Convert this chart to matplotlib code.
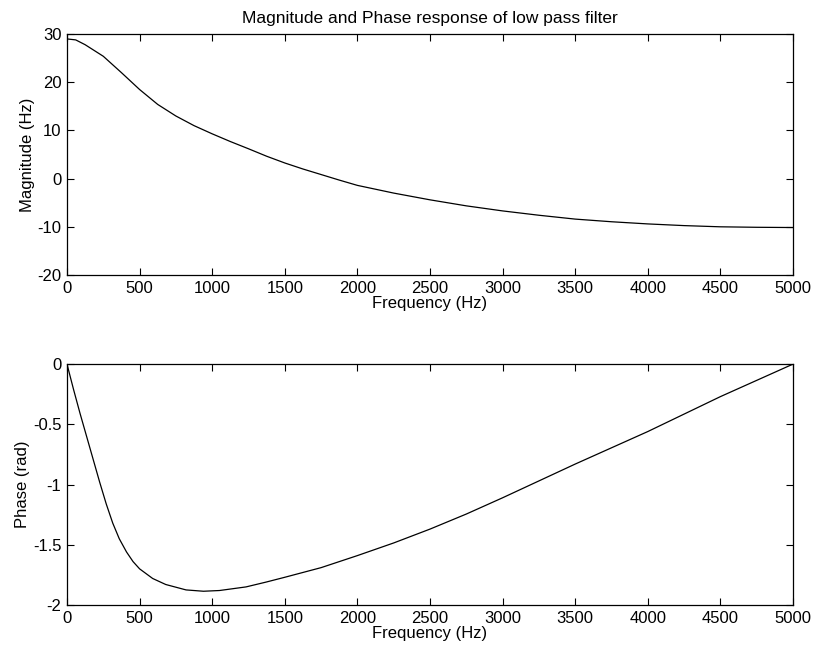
import matplotlib
matplotlib.use("Agg")
import matplotlib.pyplot as plt

plt.rcParams['font.family'] = ['Liberation Sans', 'DejaVu Sans']
plt.rcParams['font.size'] = 12
plt.rcParams['axes.unicode_minus'] = False

# magnitude response
mag_freq = [0, 60, 125, 250, 375, 500, 625, 750, 875, 1000, 1125, 1250, 1375, 1500,
            1625, 1750, 1875, 2000, 2250, 2500, 2750, 3000, 3250, 3500, 3750, 4000,
            4250, 4500, 4750, 5000]
mag_val = [29.0, 28.8, 27.8, 25.4, 22.0, 18.5, 15.4, 13.0, 11.0, 9.3, 7.7, 6.2, 4.65,
           3.25, 2.0, 0.85, -0.3, -1.4, -3.0, -4.4, -5.65, -6.7, -7.6, -8.4, -8.95,
           -9.4, -9.75, -10.0, -10.1, -10.15]

# phase response
ph_freq = [0, 45, 90, 135, 180, 225, 270, 315, 360, 410, 455, 500, 590, 680, 820,
           940, 1050, 1233, 1371, 1500, 1750, 2000, 2250, 2500, 2750, 3000, 3250,
           3500, 3750, 4000, 4250, 4500, 4750, 5000]
ph_val = [0.0, -0.21, -0.41, -0.60, -0.79, -0.98, -1.16, -1.32, -1.45, -1.56, -1.64,
          -1.70, -1.78, -1.83, -1.875, -1.886, -1.88, -1.85, -1.81, -1.77, -1.69,
          -1.59, -1.485, -1.37, -1.245, -1.11, -0.97, -0.83, -0.695, -0.56, -0.415,
          -0.27, -0.135, 0.0]

x_ticks = [0, 500, 1000, 1500, 2000, 2500, 3000, 3500, 4000, 4500, 5000]

fig = plt.figure(figsize=(8.13, 6.51), dpi=100)
ax1 = fig.add_axes([0.0824, 0.5776, 0.893, 0.370])
ax2 = fig.add_axes([0.0824, 0.0707, 0.893, 0.370])

ax1.plot(mag_freq, mag_val, color='black', linewidth=0.9)
ax1.set_xlim(0, 5000)
ax1.set_ylim(-20, 30)
ax1.set_xticks(x_ticks)
ax1.set_yticks([-20, -10, 0, 10, 20, 30])
ax1.set_xlabel('Frequency (Hz)', labelpad=0)
ax1.set_ylabel('Magnitude (Hz)', labelpad=2)
ax1.set_title('Magnitude and Phase response of low pass filter', fontsize=12.5, pad=8)

ax2.plot(ph_freq, ph_val, color='black', linewidth=0.9)
ax2.set_xlim(0, 5000)
ax2.set_ylim(-2, 0)
ax2.set_xticks(x_ticks)
ax2.set_yticks([-2, -1.5, -1, -0.5, 0])
ax2.set_yticklabels(['-2', '-1.5', '-1', '-0.5', '0'])
ax2.set_xlabel('Frequency (Hz)', labelpad=0)
ax2.set_ylabel('Phase (rad)', labelpad=2)

for ax in (ax1, ax2):
    ax.tick_params(direction='in', top=True, right=True, length=5, width=0.8, pad=4)
    for s in ax.spines.values():
        s.set_linewidth(0.9)

plt.savefig('out.png', dpi=100)
